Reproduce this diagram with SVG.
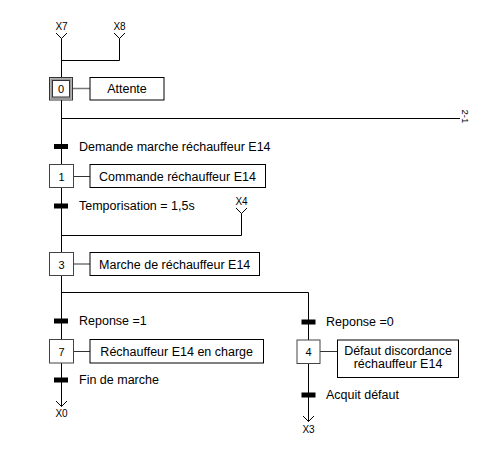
<svg xmlns="http://www.w3.org/2000/svg" width="495" height="461" viewBox="0 0 495 461">
<style>
text{font-family:"Liberation Sans",Arial,sans-serif;fill:#000}
.lbl{font-size:12.5px}
.act{font-size:12.5px;text-anchor:middle}
.num{font-size:11px;text-anchor:middle}
.ref{font-size:10px;text-anchor:middle}
.ln{stroke:#000;stroke-width:1;fill:none}
.step{fill:#fff;stroke:#444;stroke-width:1}
.abox{fill:#fff;stroke:#000;stroke-width:1}
.link{stroke:#333;stroke-width:1}
.bar{fill:#000}
</style>
<rect width="495" height="461" fill="#fff"/>
<g id="connectors">
<polyline class="ln" points="56,33 61.5,38.5 67,33"/>
<polyline class="ln" points="114,33 119.5,38.5 125,33"/>
<polyline class="ln" points="119.5,38.5 119.5,60.5 61.5,60.5"/>
<line class="ln" x1="61.5" y1="38.5" x2="61.5" y2="77.5"/>
<line class="ln" x1="61.5" y1="100" x2="61.5" y2="164.5"/>
<line class="ln" x1="61.5" y1="118.5" x2="460" y2="118.5"/>
<line class="ln" x1="61.5" y1="187.5" x2="61.5" y2="252.5"/>
<polyline class="ln" points="236,208 241.5,213.5 247,208"/>
<polyline class="ln" points="241.5,213.5 241.5,235.5 61.5,235.5"/>
<line class="ln" x1="61.5" y1="275.5" x2="61.5" y2="339.5"/>
<polyline class="ln" points="61.5,292.5 308.5,292.5 308.5,340"/>
<line class="ln" x1="61.5" y1="363" x2="61.5" y2="406.5"/>
<polyline class="ln" points="56,401 61.5,406.5 67,401"/>
<line class="ln" x1="308.5" y1="363.5" x2="308.5" y2="421.5"/>
<polyline class="ln" points="303,416 308.5,421.5 314,416"/>
<line class="link" x1="72.5" y1="88.5" x2="90" y2="88.5" style="stroke:#777;stroke-width:1.5"/>
<line class="link" x1="73.5" y1="176.5" x2="90" y2="176.5"/>
<line class="link" x1="73.5" y1="264" x2="90" y2="264"/>
<line class="link" x1="73.5" y1="351.5" x2="90" y2="351.5"/>
<line class="link" x1="320" y1="351.5" x2="337.5" y2="351.5"/>
</g>
<g id="refs">
<text class="ref" x="61.5" y="30">X7</text>
<text class="ref" x="119.5" y="30">X8</text>
<text class="ref" x="241.5" y="205">X4</text>
<text class="ref" x="61.5" y="417">X0</text>
<text class="ref" x="308.5" y="433">X3</text>
<text style="font-size:9.5px" transform="translate(461.5,109.5) rotate(90)">2-1</text>
</g>
<g id="step0">
<rect x="49.5" y="77.5" width="23" height="22.5" fill="#fff" stroke="#333"/>
<rect x="51.25" y="79.25" width="19.5" height="19" fill="none" stroke="#999" stroke-width="2"/>
<rect x="52.5" y="80.5" width="17" height="16.5" fill="none" stroke="#333"/>
<text class="num" x="61" y="92.5">0</text>
</g>
<g id="action0"><rect class="abox" x="90" y="77.5" width="74" height="22.5"/><text class="act" x="127" y="93">Attente</text></g>
<g id="t0"><rect class="bar" x="54" y="144" width="14" height="5"/><text class="lbl" x="79" y="150.5">Demande marche réchauffeur E14</text></g>
<g id="step1"><rect class="step" x="49.5" y="164.5" width="24" height="23"/><text class="num" x="61.5" y="180.5">1</text></g>
<g id="action1"><rect class="abox" x="90" y="164.5" width="175.5" height="23"/><text class="act" x="177.5" y="181">Commande réchauffeur E14</text></g>
<g id="t1"><rect class="bar" x="54" y="203.5" width="14" height="5"/><text class="lbl" x="79" y="210">Temporisation = 1,5s</text></g>
<g id="step3"><rect class="step" x="49.5" y="252.5" width="24" height="23"/><text class="num" x="61.5" y="268.5">3</text></g>
<g id="action3"><rect class="abox" x="90" y="252.5" width="169.5" height="23"/><text class="act" x="174.7" y="269">Marche de réchauffeur E14</text></g>
<g id="t3a"><rect class="bar" x="54" y="318.5" width="14" height="5"/><text class="lbl" x="79" y="325">Reponse =1</text></g>
<g id="step7"><rect class="step" x="49.5" y="339.5" width="24" height="23.5"/><text class="num" x="61.5" y="355.5">7</text></g>
<g id="action7"><rect class="abox" x="90" y="339.5" width="173.5" height="23.5"/><text class="act" x="176.7" y="356">Réchauffeur E14 en charge</text></g>
<g id="t7"><rect class="bar" x="54" y="377.5" width="14" height="5"/><text class="lbl" x="79" y="384">Fin de marche</text></g>
<g id="t3b"><rect class="bar" x="301.5" y="319.5" width="14" height="5"/><text class="lbl" x="326" y="326">Reponse =0</text></g>
<g id="step4"><rect class="step" x="297" y="340" width="23" height="23.5"/><text class="num" x="308.5" y="356">4</text></g>
<g id="action4"><rect class="abox" x="337.5" y="340" width="121" height="37.5"/><text class="act" x="398" y="355">Défaut discordance</text><text class="act" x="398" y="368">réchauffeur E14</text></g>
<g id="t4"><rect class="bar" x="301.5" y="392.5" width="14" height="5"/><text class="lbl" x="326" y="399">Acquit défaut</text></g>
</svg>
